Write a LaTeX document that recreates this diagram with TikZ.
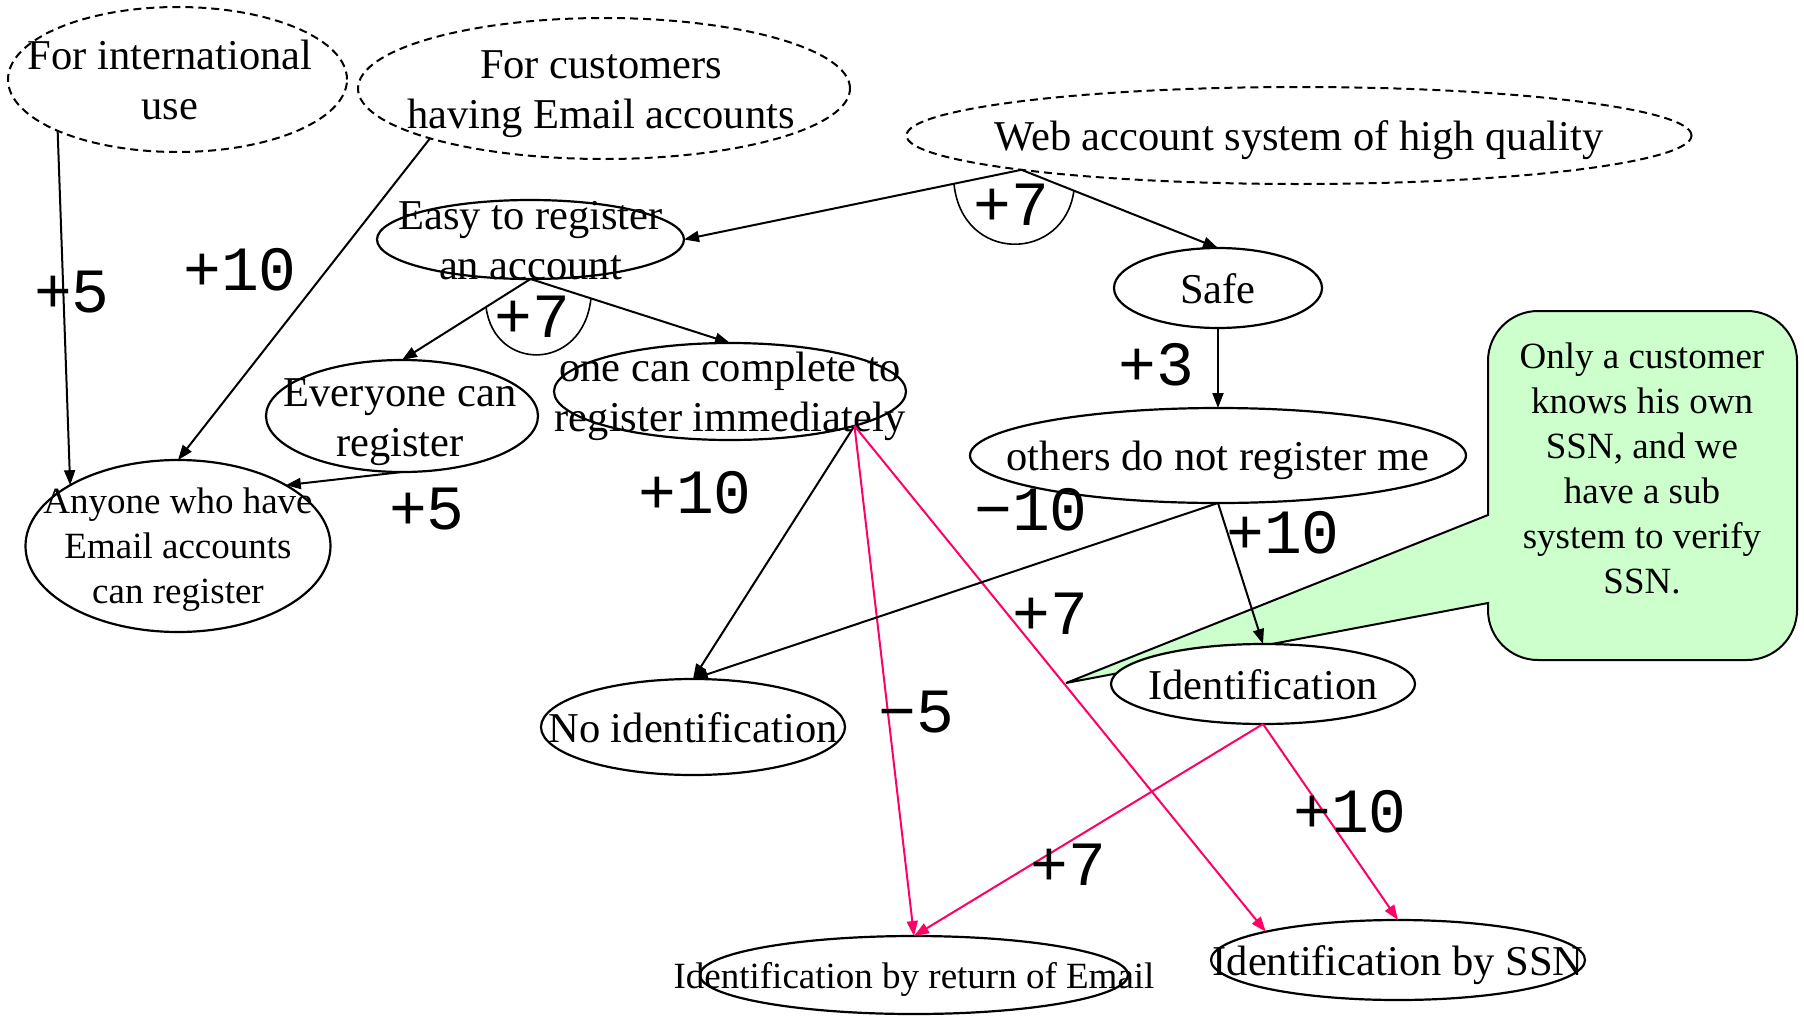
\documentclass[tikz,border=0pt]{standalone}
\usepackage{fontspec}
\setmainfont{Liberation Serif}
\newfontfamily\lblfont{Liberation Mono}
\usetikzlibrary{shapes.geometric,arrows.meta,calc}
\definecolor{pinkline}{HTML}{FF0066}
\definecolor{calloutgreen}{HTML}{CCFFCC}
\newcommand\strA{\rule[-10pt]{0pt}{50pt}}
\newcommand\strB{\rule[-9pt]{0pt}{44pt}}
\begin{document}
\begin{tikzpicture}[x=1pt,y=-1pt,
  ell/.style={ellipse, draw, line width=2.2pt, fill=white, inner sep=0pt, outer sep=0pt},
  dell/.style={ellipse, draw, line width=2pt, dash pattern=on 8pt off 5pt, inner sep=0pt, outer sep=0pt},
  txt/.style={inner sep=0pt, align=center, font=\fontsize{42.5}{50}\selectfont},
  stxt/.style={inner sep=0pt, align=center, font=\fontsize{37}{45}\selectfont},
  lbl/.style={inner sep=0pt, font=\lblfont\fontsize{63}{66}\selectfont},
  edge/.style={line width=2pt, -{Triangle[length=15pt,width=11pt]}},
  edgep/.style={edge, draw=pinkline, fill=pinkline},
  andarc/.style={line width=1.6pt}]
\useasboundingbox (0,0) rectangle (1804,1015);
\fill[white] (0,0) rectangle (1804,1015);

% callout
\draw[line width=2pt, fill=calloutgreen] (1488,515) -- (1488,361) .. controls (1488,333.4) and (1510.4,311) .. (1538,311)
  -- (1747,311) .. controls (1774.6,311) and (1797,333.4) .. (1797,361)
  -- (1797,610) .. controls (1797,637.6) and (1774.6,660) .. (1747,660)
  -- (1538,660) .. controls (1510.4,660) and (1488,637.6) .. (1488,610)
  -- (1488,603) -- (1066,683) -- cycle;
\node[stxt] (callt) at (1642,467.5) {\strB Only a customer\\\strB knows his own\\\strB SSN, and we\\\strB have a sub\\\strB system to verify\\\strB SSN.};

% ellipses
\node[dell, minimum width=339pt, minimum height=145pt] (A) at (177.5,79.5) {};
\node[dell, minimum width=492pt, minimum height=141pt] (B) at (604,88.5) {};
\node[dell, minimum width=785pt, minimum height=97pt] (C) at (1299,135.5) {};
\node[ell, minimum width=307pt, minimum height=79pt] (D) at (530.5,239.5) {};
\node[ell, minimum width=208pt, minimum height=80pt] (Safe) at (1218,288) {};
\node[ell, minimum width=272pt, minimum height=112pt] (Every) at (402,416) {};
\node[ell, minimum width=352pt, minimum height=97pt] (One) at (730,391.5) {};
\node[ell, minimum width=305pt, minimum height=172pt] (Any) at (178,546) {};
\node[ell, minimum width=496pt, minimum height=95pt] (Others) at (1218,455.5) {};
\node[ell, minimum width=304pt, minimum height=80pt] (Ident) at (1263,684) {};
\node[ell, minimum width=304pt, minimum height=96pt] (NoId) at (693,727) {};
\node[ell, minimum width=374pt, minimum height=80pt] (SSN) at (1398,960) {};
\node[ell, minimum width=428pt, minimum height=78pt] (Email) at (914,975) {};

% texts
\node[txt] (At) at (170,79.5) {\strA For international\\\strA use};
\node[txt] (Bt) at (601,88.5) {\strA For customers\\\strA having Email accounts};
\node[txt] (Ct) at (1299,135.5) {\strA Web account system of high quality};
\node[txt] (Dt) at (530.5,239.5) {\strA Easy to register\\\strA an account};
\node[txt] (Safet) at (1218,288) {\strA Safe};
\node[txt] (Everyt) at (400,416) {\strA Everyone can\\\strA register};
\node[txt] (Onet) at (730,391.5) {\strA one can complete to\\\strA register immediately};
\node[stxt] (Anyt) at (178,545) {\strB Anyone who have\\\strB Email accounts\\\strB can register};
\node[txt] (Otherst) at (1218,455.5) {\strA others do not register me};
\node[txt] (Identt) at (1263,684) {\strA Identification};
\node[txt] (NoIdt) at (693,727) {\strA No identification};
\node[txt] (SSNt) at (1398,960) {\strA Identification by SSN};
\node[stxt] (Emailt) at (914,975) {\strB Identification by return of Email};

% connectors
\draw[edge] (A.south west) -- (Any.north west);
\draw[edge] (B.south west) -- (Any.north);
\draw[edge] (C.south west) -- (D.east);
\draw[edge] (C.south west) -- (Safe.north);
\draw[edge] (D.south) -- (Every.north);
\draw[edge] (D.south) -- (One.north);
\draw[edge] (Every.south) -- (Any.north east);
\draw[edge] (One.south east) -- (NoId.north);
\draw[edgep] (One.south east) -- (Email.north);
\draw[edgep] (One.south east) -- (SSN.north west);
\draw[edge] (Safe.south) -- (Others.north);
\draw[edge] (Others.south) -- (NoId.north);
\draw[edge] (Others.south) -- (Ident.north);
\draw[edgep] (Ident.south) -- (Email.north);
\draw[edgep] (Ident.south) -- (SSN.north);

% and-arcs
\coordinate (c1) at ($(C.south west)!0.2!(D.east)$);
\coordinate (c2) at ($(C.south west)!0.267!(Safe.north)$);
\draw[andarc] (c1) .. controls ($(c1)+(8,80)$) and ($(c2)+(-10,72)$) .. (c2);
\coordinate (d1) at ($(D.south)!0.346!(Every.north)$);
\coordinate (d2) at ($(D.south)!0.303!(One.north)$);
\draw[andarc] (d1) .. controls ($(d1)+(8,65)$) and ($(d2)+(-8,74)$) .. (d2);

% labels
\node[lbl] (l1) at (72,292) {+5};
\node[lbl] (l2) at (240,270) {+10};
\node[lbl] (l3) at (1011,205) {+7};
\node[lbl] (l4) at (532,317) {+7};
\node[lbl] (l5) at (427,509) {+5};
\node[lbl] (l6) at (695,493) {+10};
\node[lbl] (l7) at (1156,365) {+3};
\node[lbl] (l8) at (1031,510) {−10};
\node[lbl] (l9) at (1283,533) {+10};
\node[lbl] (l10) at (1050,614) {+7};
\node[lbl] (l11) at (916,712) {−5};
\node[lbl] (l12) at (1068,865) {+7};
\node[lbl] (l13) at (1350,812) {+10};
\end{tikzpicture}
\end{document}
